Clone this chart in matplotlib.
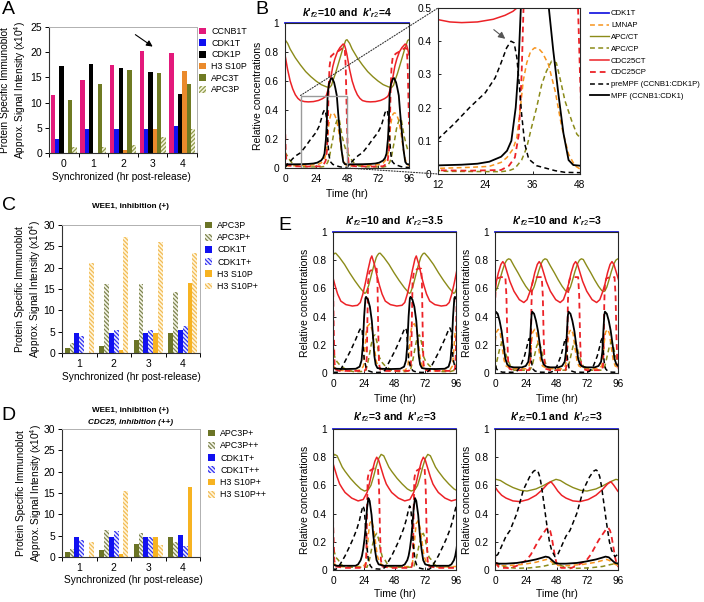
import numpy as np
import matplotlib
matplotlib.use('Agg')
import matplotlib.pyplot as plt
from matplotlib.patches import Patch, Rectangle, ConnectionPatch
from matplotlib.lines import Line2D

plt.rcParams['font.family'] = ['Liberation Sans', 'DejaVu Sans']
plt.rcParams['mathtext.fontset'] = 'custom'
plt.rcParams['mathtext.rm'] = 'Liberation Sans'
plt.rcParams['mathtext.it'] = 'Liberation Sans:italic:bold'
plt.rcParams['mathtext.bf'] = 'Liberation Sans:bold'
plt.rcParams['hatch.linewidth'] = 0.9

# ---------------- bar chart data ----------------
A_CATS = ['0', '1', '2', '3', '4']
A_LABELS = ['CCNB1T', 'CDK1T', 'CDK1P', 'H3 S10P', 'APC3T', 'APC3P']
A_CCNB1T = [11.6, 14.4, 17.4, 20.2, 19.9]
A_CDK1T = [2.8, 4.8, 4.8, 4.8, 5.3]
A_CDK1P = [17.2, 17.6, 16.9, 16.1, 11.8]
A_H3S10P = [0, 0, 0.6, 4.7, 16.3]
A_APC3T = [10.5, 13.6, 16.5, 15.8, 13.6]
A_APC3P = [1.2, 1.2, 1.6, 3.2, 4.7]

CD_CATS = ['1', '2', '3', '4']
C_LABELS = ['APC3P', 'APC3P+', 'CDK1T', 'CDK1T+', 'H3 S10P', 'H3 S10P+']
C_APC3P = [1.2, 1.6, 3.1, 4.7]
C_APC3P_I = [2.3, 16.2, 16.1, 14.3]
C_CDK1T = [4.8, 4.8, 4.7, 5.3]
C_CDK1T_I = [4.1, 5.5, 5.5, 6.3]
C_H3 = [0, 0.6, 4.7, 16.3]
C_H3_I = [21.0, 27.3, 26.0, 23.4]

D_LABELS = ['APC3P+', 'APC3P++', 'CDK1T+', 'CDK1T++', 'H3 S10P+', 'H3 S10P++']
D_APC3P = [1.2, 1.6, 3.1, 4.7]
D_APC3P_I = [1.8, 6.4, 5.7, 3.4]
D_CDK1T = [4.7, 4.7, 4.7, 5.2]
D_CDK1T_I = [4.0, 6.1, 4.6, 2.6]
D_H3 = [0, 0.6, 4.6, 16.3]
D_H3_I = [3.5, 15.4, 2.7, 0]

# ---------------- simulation curves (one cycle each, phase, value) ----------------
CURVE_LABELS = ['CDK1T', 'LMNAP', 'APC/CT', 'APC/CP', 'CDC25CT', 'CDC25CP',
                'preMPF (CCNB1:CDK1P)', 'MPF (CCNB1:CDK1)']
CDK1T_LEVEL = 1.0

# Panel B  (k'f2=10, k'r2=4): cycle start times
B_STARTS = [0, 48]
B_LMNAP = [(0,0.015),(6,0.015),(12,0.017),(20,0.02),(25,0.023),(28,0.035),(29.5,0.05),(31,0.075),(32,0.11),(32.8,0.19),(33.6,0.28),(34.5,0.335),(35.5,0.37),(36.5,0.38),(37.5,0.378),(38.5,0.365),(40,0.33),(41.7,0.25),(43.4,0.14),(45.1,0.06),(46.7,0.025),(48,0.015)]
B_APCCT = [(0,0.885),(2,0.86),(4,0.82),(8,0.76),(12,0.71),(16,0.665),(20,0.63),(24,0.6),(28,0.575),(32,0.56),(34.5,0.555),(36,0.57),(37,0.6),(39,0.65),(41,0.71),(43,0.77),(45,0.83),(47,0.88),(48,0.885)]
B_APCCP = [(0,0.11),(2,0.08),(4,0.05),(6,0.03),(9,0.015),(14,0.008),(28,0.007),(30,0.01),(31.5,0.017),(33.2,0.042),(34.5,0.08),(35.7,0.14),(37,0.2),(38.3,0.27),(39.5,0.31),(40.8,0.34),(42,0.335),(42.9,0.29),(44.2,0.22),(45.9,0.16),(47.2,0.12),(48,0.11)]
B_CDC25CT = [(0,0.78),(2,0.68),(4,0.6),(6,0.545),(8,0.505),(10,0.48),(12,0.465),(15,0.458),(18,0.456),(22,0.458),(26,0.466),(29,0.478),(31,0.49),(32,0.5),(33,0.53),(34,0.565),(35,0.6),(36,0.65),(37,0.7),(38.5,0.75),(40.5,0.8),(42.5,0.83),(45,0.855),(46,0.85),(47,0.82),(48,0.78)]
B_CDC25CP = [(0,0.3),(0.6,0.1),(1.2,0.04),(2,0.02),(6,0.012),(20,0.01),(28,0.012),(30,0.025),(31.5,0.05),(32.5,0.12),(33.2,0.3),(33.8,0.55),(34.5,0.7),(35.5,0.77),(38,0.79),(42,0.81),(45,0.83),(46.3,0.82),(47,0.7),(47.5,0.5),(48,0.3)]
B_PREMPF = [(0,0.004),(3,0.035),(6,0.065),(9,0.088),(12,0.105),(16,0.15),(20,0.2),(24,0.245),(26.5,0.29),(28,0.335),(29.4,0.38),(30.5,0.4),(31.3,0.395),(32,0.35),(32.6,0.27),(33.2,0.18),(34,0.09),(35,0.045),(37,0.025),(41.7,0.01),(44.2,0.005),(48,0.004)]
B_MPF = [(0,0.025),(12,0.026),(18,0.028),(22,0.031),(25,0.037),(28,0.052),(29.5,0.07),(30.6,0.1),(31.7,0.2),(32.3,0.3),(33,0.5),(34,0.58),(35.5,0.615),(36.5,0.62),(38,0.59),(39,0.55),(40.1,0.5),(41.2,0.374),(42.5,0.243),(43.8,0.123),(45.1,0.042),(46.3,0.027),(48,0.025)]

# Panel E1 (k'f2=10, k'r2=3.5)
E1_STARTS = [0, 34.7, 69.4]
E1_LMNAP = [(0,0.06),(1.1,0.04),(5,0.02),(10,0.015),(21.8,0.02),(23.8,0.05),(24.8,0.15),(25.8,0.28),(26.8,0.33),(28.8,0.35),(30.8,0.3),(32.3,0.18),(33.8,0.08),(34.7,0.06)]
E1_APCCT = [(0,0.835),(1.1,0.848),(2.1,0.85),(5,0.82),(9,0.77),(13,0.71),(17,0.655),(21,0.605),(24.8,0.565),(25.8,0.57),(27.8,0.62),(29.8,0.69),(31.8,0.76),(33.8,0.82),(34.7,0.835)]
E1_APCCP = [(0,0.2),(1.1,0.12),(3.1,0.08),(6,0.05),(11,0.02),(16,0.01),(22,0.01),(25.8,0.02),(27.8,0.1),(29.8,0.2),(31.3,0.26),(32.8,0.27),(34.3,0.22),(34.7,0.2)]
E1_CDC25CT = [(0,0.675),(1.6,0.62),(3.6,0.56),(6.1,0.51),(10.1,0.485),(15.1,0.475),(19.1,0.48),(21.3,0.5),(23.3,0.56),(25.3,0.64),(27.3,0.73),(29.3,0.81),(30.3,0.83),(32.3,0.77),(34.3,0.69),(34.7,0.675)]
E1_CDC25CP = [(0,0.65),(0.6,0.3),(1.2,0.07),(2,0.025),(5,0.015),(24.5,0.015),(25.8,0.03),(26.4,0.12),(26.9,0.4),(27.4,0.65),(28.5,0.72),(31.5,0.74),(34.1,0.74),(34.7,0.65)]
E1_PREMPF = [(0,0.004),(4,0.006),(5.8,0.02),(9.8,0.09),(13.8,0.16),(17.8,0.24),(20.5,0.3),(21.8,0.32),(22.8,0.3),(23.5,0.2),(24.3,0.1),(25.8,0.04),(27.8,0.015),(30.8,0.006),(34.7,0.004)]
E1_MPF = [(0,0.035),(3,0.03),(10,0.028),(17.8,0.03),(20.8,0.045),(22.3,0.09),(23.3,0.2),(24.3,0.4),(25.3,0.53),(25.8,0.54),(27.3,0.52),(28.8,0.47),(30.3,0.37),(31.3,0.25),(32.3,0.12),(33.3,0.06),(34.7,0.035)]

# Panel E2 (k'f2=10, k'r2=3)
E2_STARTS = [0.6, 29.0, 57.4, 85.8]
E2_LMNAP = [(-14.2,0.03),(-5,0.03),(-2.5,0.05),(-1.5,0.1),(-0.5,0.22),(0.5,0.29),(2,0.31),(3.5,0.28),(5,0.18),(6.5,0.09),(8,0.05),(11,0.035),(14.2,0.03)]
E2_APCCT = [(-14.2,0.76),(-11,0.71),(-8,0.66),(-5,0.615),(-2.5,0.585),(-1,0.578),(0,0.582),(1.5,0.61),(3,0.655),(5,0.72),(7,0.775),(8.5,0.8),(10,0.81),(11.5,0.805),(14.2,0.76)]
E2_APCCP = [(-14.2,0.02),(-2,0.02),(0,0.05),(2,0.13),(3.5,0.19),(5,0.22),(6.5,0.19),(8,0.13),(10,0.08),(12,0.04),(14.2,0.02)]
E2_CDC25CT = [(-14.2,0.58),(-10,0.52),(-6.5,0.5),(-4,0.52),(-2,0.57),(0,0.63),(2,0.71),(4,0.77),(5.5,0.79),(7,0.77),(9,0.71),(11,0.65),(14.2,0.58)]
E2_CDC25CP = [(-14.2,0.02),(-2.5,0.02),(-1.5,0.05),(-1,0.2),(-0.5,0.5),(0,0.63),(1,0.67),(4,0.68),(7.5,0.68),(8.3,0.55),(9,0.25),(9.7,0.07),(10.7,0.03),(14.2,0.02)]
E2_PREMPF = [(-14.2,0.005),(-12,0.012),(-9,0.05),(-6,0.12),(-4,0.19),(-3,0.23),(-2.2,0.245),(-1.4,0.17),(-0.6,0.08),(0.5,0.03),(2,0.015),(5,0.006),(14.2,0.005)]
E2_MPF = [(-14.2,0.04),(-8,0.04),(-5,0.05),(-3,0.08),(-2,0.15),(-1.2,0.3),(-0.5,0.41),(0,0.435),(1.5,0.42),(3,0.37),(4.5,0.3),(6,0.2),(7.5,0.1),(9,0.06),(11,0.045),(14.2,0.04)]

# Panel E3 (k'f2=3, k'r2=3)
E3_STARTS = [-8.8, 27.6, 64.0, 100.4]
E3_LMNAP = [(-18.2,0.02),(-4,0.025),(-2,0.05),(-1,0.12),(0,0.25),(1,0.33),(2.5,0.35),(4,0.3),(5.5,0.2),(7,0.1),(9,0.05),(12,0.03),(18.2,0.02)]
E3_APCCT = [(-18.2,0.7),(-14,0.65),(-10,0.61),(-6,0.575),(-3,0.56),(0,0.57),(2,0.6),(4,0.66),(6,0.73),(8,0.79),(10,0.82),(12,0.81),(14,0.77),(16,0.73),(18.2,0.7)]
E3_APCCP = [(-18.2,0.02),(-1,0.02),(1,0.08),(3,0.17),(5,0.24),(6.5,0.26),(8,0.22),(9.5,0.14),(11,0.09),(13,0.07),(15,0.04),(18.2,0.02)]
E3_CDC25CT = [(-18.2,0.55),(-13,0.51),(-8,0.49),(-4,0.5),(-1,0.55),(1,0.62),(3,0.7),(5,0.77),(6.5,0.8),(8,0.78),(10,0.72),(12,0.66),(14,0.61),(16,0.58),(18.2,0.55)]
E3_CDC25CP = [(-18.2,0.015),(-3,0.015),(-2,0.04),(-1.5,0.15),(-1,0.45),(-0.5,0.65),(0.5,0.7),(4,0.72),(7.5,0.72),(8.3,0.6),(9,0.3),(9.8,0.07),(10.8,0.025),(18.2,0.015)]
E3_PREMPF = [(-18.2,0.1),(-15,0.16),(-12,0.22),(-9,0.29),(-7,0.35),(-5.5,0.41),(-4.2,0.455),(-3.2,0.43),(-2.3,0.32),(-1.3,0.18),(0,0.07),(1.5,0.03),(3,0.015),(6,0.008),(11,0.005),(13,0.02),(15,0.05),(18.2,0.1)]
E3_MPF = [(-18.2,0.03),(-10,0.03),(-8,0.04),(-6,0.07),(-5,0.1),(-4,0.15),(-3,0.22),(-2,0.32),(-1,0.44),(0,0.51),(1,0.49),(2.5,0.39),(3.8,0.25),(5.2,0.14),(6.4,0.07),(8,0.04),(12,0.03),(18.2,0.03)]

# Panel E4 (k'f2=0.1, k'r2=3)
E4_STARTS = [-14.8, 32.0, 78.8]
E4_LMNAP = [(-23.4,0.03),(-10,0.04),(0,0.055),(6,0.07),(8.5,0.075),(11,0.065),(14,0.045),(17,0.032),(23.4,0.03)]
E4_APCCT = [(-23.4,0.61),(-18,0.585),(-12,0.565),(-7,0.56),(0,0.575),(6,0.6),(11,0.625),(15.6,0.643),(19,0.635),(23.4,0.61)]
E4_APCCP = [(-23.4,0.02),(-15,0.012),(-5,0.015),(5,0.025),(12,0.04),(16,0.045),(20,0.03),(23.4,0.02)]
E4_CDC25CT = [(-23.4,0.51),(-18,0.49),(-12.5,0.485),(-6,0.5),(0,0.53),(5,0.57),(9,0.61),(11.7,0.626),(14,0.6),(17,0.56),(20,0.53),(23.4,0.51)]
E4_CDC25CP = [(-23.4,0.015),(-20,0.012),(-15,0.03),(-7.3,0.07),(-4,0.11),(-1,0.16),(2,0.21),(5.7,0.26),(8,0.29),(9.6,0.3),(11,0.28),(12.2,0.236),(14,0.14),(14.8,0.095),(16,0.05),(17.4,0.024),(20,0.015),(23.4,0.015)]
E4_PREMPF = [(-23.4,0.24),(-20.3,0.28),(-15,0.4),(-9.8,0.57),(-5,0.66),(-2,0.7),(0,0.71),(1.5,0.7),(3,0.66),(4.4,0.59),(6.5,0.45),(8.3,0.33),(10.5,0.2),(12.2,0.14),(14.8,0.095),(17,0.11),(20,0.17),(23.4,0.24)]
E4_MPF = [(-23.4,0.045),(-15,0.05),(-8,0.06),(0,0.075),(5,0.088),(7.5,0.095),(10,0.09),(13,0.065),(15,0.05),(18,0.045),(23.4,0.045)]

# ---------------- styles ----------------
BLUE = '#1f1fe0'; ORANGE = '#f7941e'; OLIVE = '#8b8b19'; RED = '#ec2227'
DASH = (0, (3.2, 2.2))
STY = {
    'CDK1T': dict(color=BLUE, ls='-', lw=1.3),
    'LMNAP': dict(color=ORANGE, ls=DASH, lw=1.1),
    'APC/CT': dict(color=OLIVE, ls='-', lw=1.0),
    'APC/CP': dict(color=OLIVE, ls=DASH, lw=1.1),
    'CDC25CT': dict(color=RED, ls='-', lw=1.1),
    'CDC25CP': dict(color=RED, ls=DASH, lw=1.3),
    'preMPF (CCNB1:CDK1P)': dict(color='black', ls=DASH, lw=1.1),
    'MPF (CCNB1:CDK1)': dict(color='black', ls='-', lw=1.3),
}

W, H = 704, 602
fig = plt.figure(figsize=(7.04, 6.02), dpi=100)


def box(l, r, t, b):
    return [l / W, 1 - b / H, (r - l) / W, (b - t) / H]


def ftext(x, y, s, **kw):
    fig.text(x / W, 1 - y / H, s, **kw)


def ktitle(kf, kr):
    return "$k$'$_{f2}$=" + kf + " and  $k$'$_{r2}$=" + kr


# ---------------- bar panels ----------------
def bar_panel(rect, cats, series, specs, ymax, gw):
    ax = fig.add_axes(rect)
    n = len(series)
    x = np.arange(len(cats))
    w = gw / n
    for i, (vals, sp) in enumerate(zip(series, specs)):
        ax.bar(x - gw / 2 + w * (i + 0.5), vals, w, color=sp[0], edgecolor=sp[1],
               hatch=sp[2], linewidth=0)
    ax.set_xlim(-0.5, len(cats) - 0.5)
    ax.set_ylim(0, ymax)
    ax.set_yticks(np.arange(0, ymax + 1, 5))
    ax.set_xticks(x)
    ax.set_xticklabels(cats)
    ax.set_xticks(np.arange(len(cats) + 1) - 0.5, minor=True)
    ax.tick_params(axis='x', which='major', length=0, pad=4, labelsize=7.5)
    ax.tick_params(axis='x', which='minor', length=3, direction='out', width=0.7)
    ax.tick_params(axis='y', length=3, direction='out', width=0.7, labelsize=7.5, pad=2)
    for s in ['left', 'bottom']:
        ax.spines[s].set_color('#333333'); ax.spines[s].set_linewidth(0.8)
    for s in ['top', 'right']:
        ax.spines[s].set_color('#b0b0b0'); ax.spines[s].set_linewidth(0.7)
    return ax


def bar_legend(ax, labels, specs, x, y, spacing):
    handles = [Patch(facecolor=sp[0], edgecolor=sp[1], hatch=sp[2], linewidth=0) for sp in specs]
    ax.legend(handles, labels, loc='upper left', bbox_to_anchor=(x / W, 1 - y / H),
              bbox_transform=fig.transFigure, frameon=False, fontsize=6.4,
              handlelength=0.8, handleheight=0.8, handletextpad=0.6,
              labelspacing=spacing, borderpad=0, borderaxespad=0)


HB = '\\' * 8
HF = '/' * 8
A_SPECS = [('#e3197b', '#e3197b', None), ('#1010f0', '#1010f0', None), ('black', 'black', None),
           ('#ea8a2c', '#ea8a2c', None), ('#6f7a23', '#6f7a23', None), ('#f3f3dc', '#8f9a4a', HF)]
axA = bar_panel(box(49, 197, 27, 153), A_CATS,
                [A_CCNB1T, A_CDK1T, A_CDK1P, A_H3S10P, A_APC3T, A_APC3P], A_SPECS, 25, 0.88)
bar_legend(axA, A_LABELS, A_SPECS, 199, 27, 0.3)
axA.annotate('', xy=(3.08, 20.8), xytext=(2.34, 23.8),
             arrowprops=dict(arrowstyle='-|>', color='black', lw=0.8, mutation_scale=9))

C_SPECS = [('#6b7426', '#6b7426', None), ('#f4f4e6', '#7d8450', HB), ('#1010f0', '#1010f0', None),
           ('#ececff', '#3030f0', HB), ('#f7b321', '#f7b321', None), ('#fff6dc', '#f2bb55', HB)]
axC = bar_panel(box(62, 200, 225, 353), CD_CATS,
                [C_APC3P, C_APC3P_I, C_CDK1T, C_CDK1T_I, C_H3, C_H3_I], C_SPECS, 30, 0.84)
bar_legend(axC, C_LABELS, C_SPECS, 205, 221, 0.36)
axD = bar_panel(box(62, 200, 429, 557), CD_CATS,
                [D_APC3P, D_APC3P_I, D_CDK1T, D_CDK1T_I, D_H3, D_H3_I], C_SPECS, 30, 0.84)
bar_legend(axD, D_LABELS, C_SPECS, 208, 429, 0.37)

YL = 'Protein Specific Immunoblot\nApprox. Signal Intensity (x10$^{4}$)'
ftext(14, 90, YL, rotation=90, ha='center', va='center', fontsize=7.3, linespacing=1.15)
ftext(29, 289, YL, rotation=90, ha='center', va='center', fontsize=7.3, linespacing=1.15)
ftext(30, 493, YL, rotation=90, ha='center', va='center', fontsize=7.3, linespacing=1.15)
ftext(121, 177, 'Synchronized (hr post-release)', ha='center', va='center', fontsize=7.3)
ftext(131, 377, 'Synchronized (hr post-release)', ha='center', va='center', fontsize=7.3)
ftext(133, 580, 'Synchronized (hr post-release)', ha='center', va='center', fontsize=7.3)
ftext(131, 207, 'WEE1, inhibition (+)', ha='center', va='center', fontsize=5.9, fontweight='bold')
ftext(131, 411, 'WEE1, inhibition (+)', ha='center', va='center', fontsize=5.9, fontweight='bold')
ftext(131, 422, 'CDC25, inhibition (++)', ha='center', va='center', fontsize=5.9,
      fontweight='bold', style='italic')


# ---------------- curve panels ----------------
def draw_curves(ax, starts, curves):
    ax.plot([0, 96], [CDK1T_LEVEL, CDK1T_LEVEL], clip_on=(ax.get_ylim()[1] < 1), **STY['CDK1T'])
    for key, data in zip(CURVE_LABELS[1:], curves):
        ph = np.array([p for p, _ in data])
        vv = np.array([v for _, v in data])
        t = np.concatenate([s + ph for s in starts])
        y = np.tile(vv, len(starts))
        ax.plot(t, y, **STY[key])


def style_curve_axes(ax, xt, yt, ytl):
    ax.set_xticks(xt)
    ax.set_yticks(yt)
    ax.set_yticklabels(ytl)
    ax.tick_params(direction='in', length=2.5, width=0.6, labelsize=7.3, pad=4.5)
    for s in ax.spines.values():
        s.set_color('#262626'); s.set_linewidth(0.8)


def curve_panel(rect, starts, curves, title, ylabel_x, xlabel_y, title_y):
    ax = fig.add_axes(rect)
    ax.set_xlim(0, 96)
    ax.set_ylim(0, 1)
    draw_curves(ax, starts, curves)
    style_curve_axes(ax, [0, 24, 48, 72, 96], [0, 0.2, 0.4, 0.6, 0.8, 1],
                     ['0', '0.2', '0.4', '0.6', '0.8', '1'])
    l = rect[0] * W; r = (rect[0] + rect[2]) * W
    t = (1 - rect[1] - rect[3]) * H; b = (1 - rect[1]) * H
    ftext(ylabel_x, (t + b) / 2, 'Relative concentrations', rotation=90, ha='center',
          va='center', fontsize=7.5)
    if xlabel_y is not None:
        ftext((l + r) / 2, xlabel_y, 'Time (hr)', ha='center', va='center', fontsize=7.5)
    ftext((l + r) / 2, title_y, title, ha='center', va='center', fontsize=7.6, fontweight='bold')
    return ax


B_CURVES = [B_LMNAP, B_APCCT, B_APCCP, B_CDC25CT, B_CDC25CP, B_PREMPF, B_MPF]
axB = curve_panel(box(285, 409, 23, 168), B_STARTS, B_CURVES,
                  ktitle('10', '4'), 258, 194, 13)
axB.add_patch(Rectangle((12, 0), 36, 0.5, fill=False, edgecolor='#9a9a9a', lw=1.0, zorder=5))

axZ = fig.add_axes(box(438, 580, 8, 174))
axZ.set_xlim(12, 48)
axZ.set_ylim(0, 0.5)
draw_curves(axZ, B_STARTS, B_CURVES)
style_curve_axes(axZ, [12, 24, 36, 48], [0, 0.1, 0.2, 0.3, 0.4, 0.5],
                 ['0', '0.1', '0.2', '0.3', '0.4', '0.5'])
axZ.annotate('', xy=(29.6, 0.402), xytext=(25.6, 0.44),
             arrowprops=dict(arrowstyle='-|>', color='#555555', lw=0.8, mutation_scale=10))
for pa, pb in [((12, 0.5), (12, 0.5)), ((48, 0), (12, 0))]:
    cp = ConnectionPatch(xyA=pa, coordsA=axB.transData, xyB=pb, coordsB=axZ.transData,
                         ls=(0, (1, 1.5)), color='#333333', lw=0.8, zorder=10)
    fig.add_artist(cp)

handles = [Line2D([0], [0], **STY[k]) for k in CURVE_LABELS]
axZ.legend(handles, CURVE_LABELS, loc='upper left', bbox_to_anchor=(590 / W, 1 - 10 / H),
           bbox_transform=fig.transFigure, frameon=False, fontsize=5.6, handlelength=2.5,
           handletextpad=0.2, labelspacing=0.56, borderpad=0, borderaxespad=0)

curve_panel(box(333, 456, 232, 373), E1_STARTS,
            [E1_LMNAP, E1_APCCT, E1_APCCP, E1_CDC25CT, E1_CDC25CP, E1_PREMPF, E1_MPF],
            ktitle('10', '3.5'), 305, 399, 221)
curve_panel(box(495, 618, 232, 373), E2_STARTS,
            [E2_LMNAP, E2_APCCT, E2_APCCP, E2_CDC25CT, E2_CDC25CP, E2_PREMPF, E2_MPF],
            ktitle('10', '3'), 467, 399, 221)
curve_panel(box(333, 456, 429, 570), E3_STARTS,
            [E3_LMNAP, E3_APCCT, E3_APCCP, E3_CDC25CT, E3_CDC25CP, E3_PREMPF, E3_MPF],
            ktitle('3', '3'), 305, 594, 417)
curve_panel(box(495, 618, 429, 570), E4_STARTS,
            [E4_LMNAP, E4_APCCT, E4_APCCP, E4_CDC25CT, E4_CDC25CP, E4_PREMPF, E4_MPF],
            ktitle('0.1', '3'), 467, 594, 417)

# panel letters
for letter, x, y in [('A', 8, 10), ('B', 262, 9), ('C', 9, 205), ('D', 8, 415), ('E', 285, 226)]:
    ftext(x, y, letter, ha='center', va='center', fontsize=14)

fig.savefig('out.png', dpi=100)
